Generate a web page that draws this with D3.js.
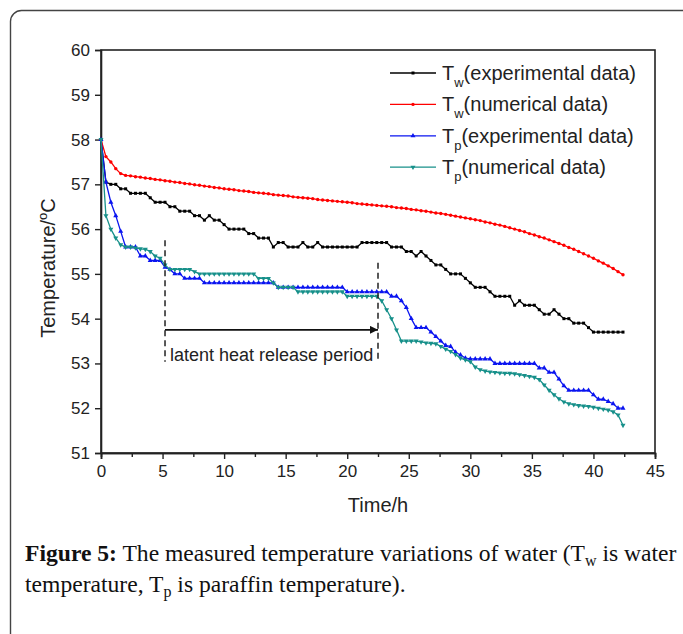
<!DOCTYPE html>
<html>
<head>
<meta charset="utf-8">
<script src="https://d3js.org/d3.v7.min.js"></script>
<style>
  body { margin: 0; background: #fff; }
  text { font-family: "Liberation Sans", Arial, sans-serif; }
</style>
</head>
<body>
<svg id="chart" width="683" height="634"></svg>
<script>
// time axis (h)
const hours = [0,0.4,0.8,1.2,1.6,2,2.4,2.8,3.2,3.6,
  4,4.4,4.8,5.2,5.6,6,6.4,6.8,7.2,7.6,
  8,8.4,8.8,9.2,9.6,10,10.4,10.8,11.2,11.6,
  12,12.4,12.8,13.2,13.6,14,14.4,14.8,15.2,15.6,
  16,16.4,16.8,17.2,17.6,18,18.4,18.8,19.2,19.6,
  20,20.4,20.8,21.2,21.6,22,22.4,22.8,23.2,23.6,
  24,24.4,24.8,25.2,25.6,26,26.4,26.8,27.2,27.6,
  28,28.4,28.8,29.2,29.6,30,30.4,30.8,31.2,31.6,
  32,32.4,32.8,33.2,33.6,34,34.4,34.8,35.2,35.6,
  36,36.4,36.8,37.2,37.6,38,38.4,38.8,39.2,39.6,
  40,40.4,40.8,41.2,41.6,42,42.4];

// Tw experimental
const twExp = [58.0,57.05,57.0,57.0,56.9,56.9,56.8,56.8,56.8,56.8,
  56.7,56.6,56.6,56.6,56.5,56.5,56.4,56.4,56.4,56.3,
  56.3,56.2,56.3,56.2,56.2,56.1,56.0,56.0,56.0,56.0,
  55.9,55.9,55.8,55.8,55.8,55.6,55.7,55.7,55.6,55.6,
  55.6,55.7,55.6,55.6,55.7,55.6,55.6,55.6,55.6,55.6,
  55.6,55.6,55.6,55.7,55.7,55.7,55.7,55.7,55.7,55.6,
  55.6,55.6,55.5,55.5,55.4,55.5,55.4,55.3,55.2,55.2,
  55.1,55.0,55.0,55.0,54.9,54.8,54.7,54.7,54.7,54.6,
  54.5,54.5,54.5,54.5,54.3,54.4,54.3,54.3,54.3,54.2,
  54.1,54.1,54.2,54.1,54.0,54.0,53.9,53.9,53.9,53.8,
  53.7,53.7,53.7,53.7,53.7,53.7,53.7];

// Tw numerical
const twNum = [58.0,57.62,57.5,57.35,57.24,57.2,57.19,57.17,57.16,57.14,
  57.13,57.11,57.1,57.08,57.07,57.05,57.04,57.02,57.01,56.99,
  56.98,56.96,56.95,56.93,56.92,56.9,56.89,56.88,56.86,56.85,
  56.84,56.82,56.81,56.8,56.79,56.77,56.76,56.75,56.74,56.72,
  56.71,56.7,56.69,56.68,56.66,56.65,56.64,56.63,56.62,56.61,
  56.6,56.59,56.57,56.56,56.55,56.54,56.53,56.52,56.51,56.5,
  56.48,56.47,56.46,56.44,56.43,56.41,56.4,56.38,56.36,56.35,
  56.33,56.31,56.29,56.27,56.25,56.23,56.21,56.19,56.16,56.14,
  56.11,56.09,56.06,56.03,56.0,55.97,55.94,55.9,55.87,55.83,
  55.8,55.76,55.72,55.68,55.64,55.59,55.55,55.5,55.45,55.4,
  55.35,55.29,55.24,55.18,55.12,55.05,54.98];

// Tp experimental
const tpExp = [58.0,57.05,56.6,56.3,55.95,55.6,55.6,55.6,55.4,55.4,
  55.3,55.3,55.3,55.15,55.1,55.0,55.0,54.9,54.9,54.9,
  54.9,54.8,54.8,54.8,54.8,54.8,54.8,54.8,54.8,54.8,
  54.8,54.8,54.8,54.8,54.8,54.8,54.7,54.7,54.7,54.7,
  54.7,54.7,54.7,54.7,54.7,54.7,54.7,54.7,54.7,54.7,
  54.6,54.6,54.6,54.6,54.6,54.6,54.6,54.6,54.6,54.5,
  54.5,54.4,54.25,54.0,53.8,53.8,53.8,53.7,53.6,53.5,
  53.4,53.38,53.25,53.19,53.12,53.1,53.1,53.1,53.1,53.1,
  53.0,53.0,53.0,53.0,53.0,53.0,53.0,53.0,53.0,52.9,
  52.9,52.8,52.8,52.65,52.5,52.4,52.4,52.4,52.4,52.4,
  52.3,52.2,52.2,52.15,52.1,52.0,52.0];

// Tp numerical
const tpNum = [58.0,56.3,56.0,55.8,55.65,55.6,55.6,55.58,55.56,55.55,
  55.5,55.4,55.35,55.2,55.1,55.1,55.1,55.1,55.1,55.05,
  55.0,55.0,55.0,55.0,55.0,55.0,55.0,55.0,55.0,55.0,
  55.0,55.0,54.9,54.9,54.9,54.8,54.7,54.7,54.7,54.7,
  54.6,54.6,54.6,54.6,54.6,54.6,54.6,54.6,54.6,54.6,
  54.5,54.5,54.5,54.5,54.5,54.5,54.5,54.4,54.2,54.0,
  53.75,53.5,53.5,53.5,53.5,53.48,53.46,53.45,53.44,53.38,
  53.32,53.27,53.2,53.12,53.08,53.04,52.92,52.86,52.83,52.81,
  52.8,52.79,52.78,52.78,52.77,52.75,52.73,52.71,52.69,52.64,
  52.52,52.4,52.3,52.21,52.14,52.1,52.08,52.06,52.05,52.04,
  52.02,52.0,51.98,51.96,51.92,51.85,51.62];

const xTicks = [0,5,10,15,20,25,30,35,40,45];
const xMinor = [2.5,7.5,12.5,17.5,22.5,27.5,32.5,37.5,42.5];
const yTicks = [51,52,53,54,55,56,57,58,59,60];

// latent heat period markers (h)
const periodStart = 5.2, periodEnd = 22.5;
const periodLabel = "latent heat release period";

const series = [
  {name: "w", label: "(experimental data)", values: twExp, color: "#000000", symbol: d3.symbolSquare, size: 9},
  {name: "w", label: "(numerical data)", values: twNum, color: "#ff0000", symbol: d3.symbolCircle, size: 9},
  {name: "p", label: "(experimental data)", values: tpExp, color: "#0a14f0", symbol: d3.symbolTriangle, size: 11},
  {name: "p", label: "(numerical data)", values: tpNum, color: "#17908a", symbol: d3.symbolTriangle, size: 11, flip: true}
];

const svg = d3.select("#chart");
const margin = {left: 101, right: 28, top: 50, bottom: 181};
const W = 683, H = 634;
const x = d3.scaleLinear().domain([0, 45]).range([margin.left, W - margin.right]);
const y = d3.scaleLinear().domain([51, 60]).range([H - margin.bottom, margin.top]);

// card border
svg.append("rect")
  .attr("x", 10.5).attr("y", 10.5)
  .attr("width", 800).attr("height", 800)
  .attr("rx", 11)
  .attr("fill", "none")
  .attr("stroke", "#444")
  .attr("stroke-width", 1.4);

// frame
svg.append("rect")
  .attr("x", x(0)).attr("y", y(60))
  .attr("width", x(45) - x(0)).attr("height", y(51) - y(60))
  .attr("fill", "none").attr("stroke", "#222").attr("stroke-width", 1.6);

const xAxis = svg.append("g")
  .attr("transform", `translate(0,${y(51)})`)
  .call(d3.axisBottom(x).tickValues(xTicks).tickSize(6).tickPadding(6));
const xMinorAxis = svg.append("g")
  .attr("transform", `translate(0,${y(51)})`)
  .call(d3.axisBottom(x).tickValues(xMinor).tickSize(4).tickFormat(""));
const yAxis = svg.append("g")
  .attr("transform", `translate(${x(0)},0)`)
  .call(d3.axisLeft(y).tickValues(yTicks).tickSize(6).tickPadding(5));

[xAxis, xMinorAxis, yAxis].forEach(g => {
  g.select(".domain").attr("stroke", "#222").attr("stroke-width", 1.6);
  g.selectAll(".tick line").attr("stroke", "#222").attr("stroke-width", 1.4);
  g.selectAll(".tick text").attr("fill", "#222")
    .style("font-family", '"Liberation Sans", Arial, sans-serif')
    .style("font-size", "17px");
});

// axis titles
svg.append("text")
  .attr("x", (x(0) + x(45)) / 2).attr("y", 512)
  .attr("text-anchor", "middle")
  .attr("fill", "#222")
  .style("font-size", "20px")
  .text("Time/h");

const yTitle = svg.append("text")
  .attr("transform", "translate(55,268) rotate(-90)")
  .attr("text-anchor", "middle")
  .attr("fill", "#222")
  .style("font-size", "20px");
yTitle.append("tspan").text("Temperature/");
yTitle.append("tspan").attr("dy", -8).style("font-size", "13px").text("o");
yTitle.append("tspan").attr("dy", 8).text("C");

// series
const line = d3.line().x((d, i) => x(hours[i])).y(d => y(d));
series.forEach(s => {
  svg.append("path")
    .datum(s.values)
    .attr("d", line)
    .attr("fill", "none")
    .attr("stroke", s.color)
    .attr("stroke-width", 1.3);
  svg.append("g").selectAll("path")
    .data(s.values)
    .join("path")
    .attr("d", d3.symbol().type(s.symbol).size(s.size))
    .attr("transform", (d, i) => `translate(${x(hours[i])},${y(d)})${s.flip ? " rotate(180)" : ""}`)
    .attr("fill", s.color);
});

// latent heat annotation
const dash = "6,4";
svg.append("line")
  .attr("x1", x(periodStart)).attr("x2", x(periodStart))
  .attr("y1", y(55.75)).attr("y2", y(53.04))
  .attr("stroke", "#222").attr("stroke-width", 1.5).attr("stroke-dasharray", dash);
svg.append("line")
  .attr("x1", x(periodEnd)).attr("x2", x(periodEnd))
  .attr("y1", y(55.25)).attr("y2", y(53.04))
  .attr("stroke", "#222").attr("stroke-width", 1.5).attr("stroke-dasharray", dash);
svg.append("defs").append("marker")
  .attr("id", "arrow").attr("viewBox", "0 0 10 10")
  .attr("refX", 10).attr("refY", 5)
  .attr("markerWidth", 12).attr("markerHeight", 8)
  .attr("markerUnits", "userSpaceOnUse")
  .attr("orient", "auto")
  .append("path").attr("d", "M0,0 L10,5 L0,10 z").attr("fill", "#111");
svg.append("line")
  .attr("x1", x(periodStart)).attr("x2", x(periodEnd))
  .attr("y1", y(53.75)).attr("y2", y(53.75))
  .attr("stroke", "#111").attr("stroke-width", 1.6)
  .attr("marker-end", "url(#arrow)");
svg.append("text")
  .attr("x", x(periodStart) + 5).attr("y", y(53.06))
  .attr("fill", "#222")
  .style("font-size", "18px")
  .text(periodLabel);

// legend
const legend = svg.append("g");
series.forEach((s, i) => {
  const ly = 73 + i * 31.4;
  legend.append("line")
    .attr("x1", 390).attr("x2", 436).attr("y1", ly).attr("y2", ly)
    .attr("stroke", s.color).attr("stroke-width", 1.3);
  legend.append("path")
    .attr("d", d3.symbol().type(s.symbol).size(s.size)())
    .attr("transform", `translate(413,${ly})${s.flip ? " rotate(180)" : ""}`)
    .attr("fill", s.color);
  const t = legend.append("text")
    .attr("x", 442).attr("y", ly + 7)
    .attr("fill", "#222")
    .style("font-size", "20px");
  t.append("tspan").text("T");
  t.append("tspan").attr("dy", 7).style("font-size", "13px").text(s.name);
  t.append("tspan").attr("dy", -7).text(s.label);
});

// caption
const capFont = '"Liberation Serif", "Times New Roman", serif';
const cap1 = svg.append("text").attr("x", 25).attr("y", 561)
  .style("font-family", capFont).style("font-size", "23.6px").attr("fill", "#111");
cap1.append("tspan").style("font-weight", "bold").text("Figure 5:");
cap1.append("tspan").text(" The measured temperature variations of water (T");
cap1.append("tspan").attr("dy", 5).style("font-size", "16px").text("w");
cap1.append("tspan").attr("dy", -5).text(" is water");
const cap2 = svg.append("text").attr("x", 25).attr("y", 592)
  .style("font-family", capFont).style("font-size", "23.6px").attr("fill", "#111");
cap2.append("tspan").text("temperature, T");
cap2.append("tspan").attr("dy", 5).style("font-size", "16px").text("p");
cap2.append("tspan").attr("dy", -5).text(" is paraffin temperature).");
</script>
</body>
</html>
